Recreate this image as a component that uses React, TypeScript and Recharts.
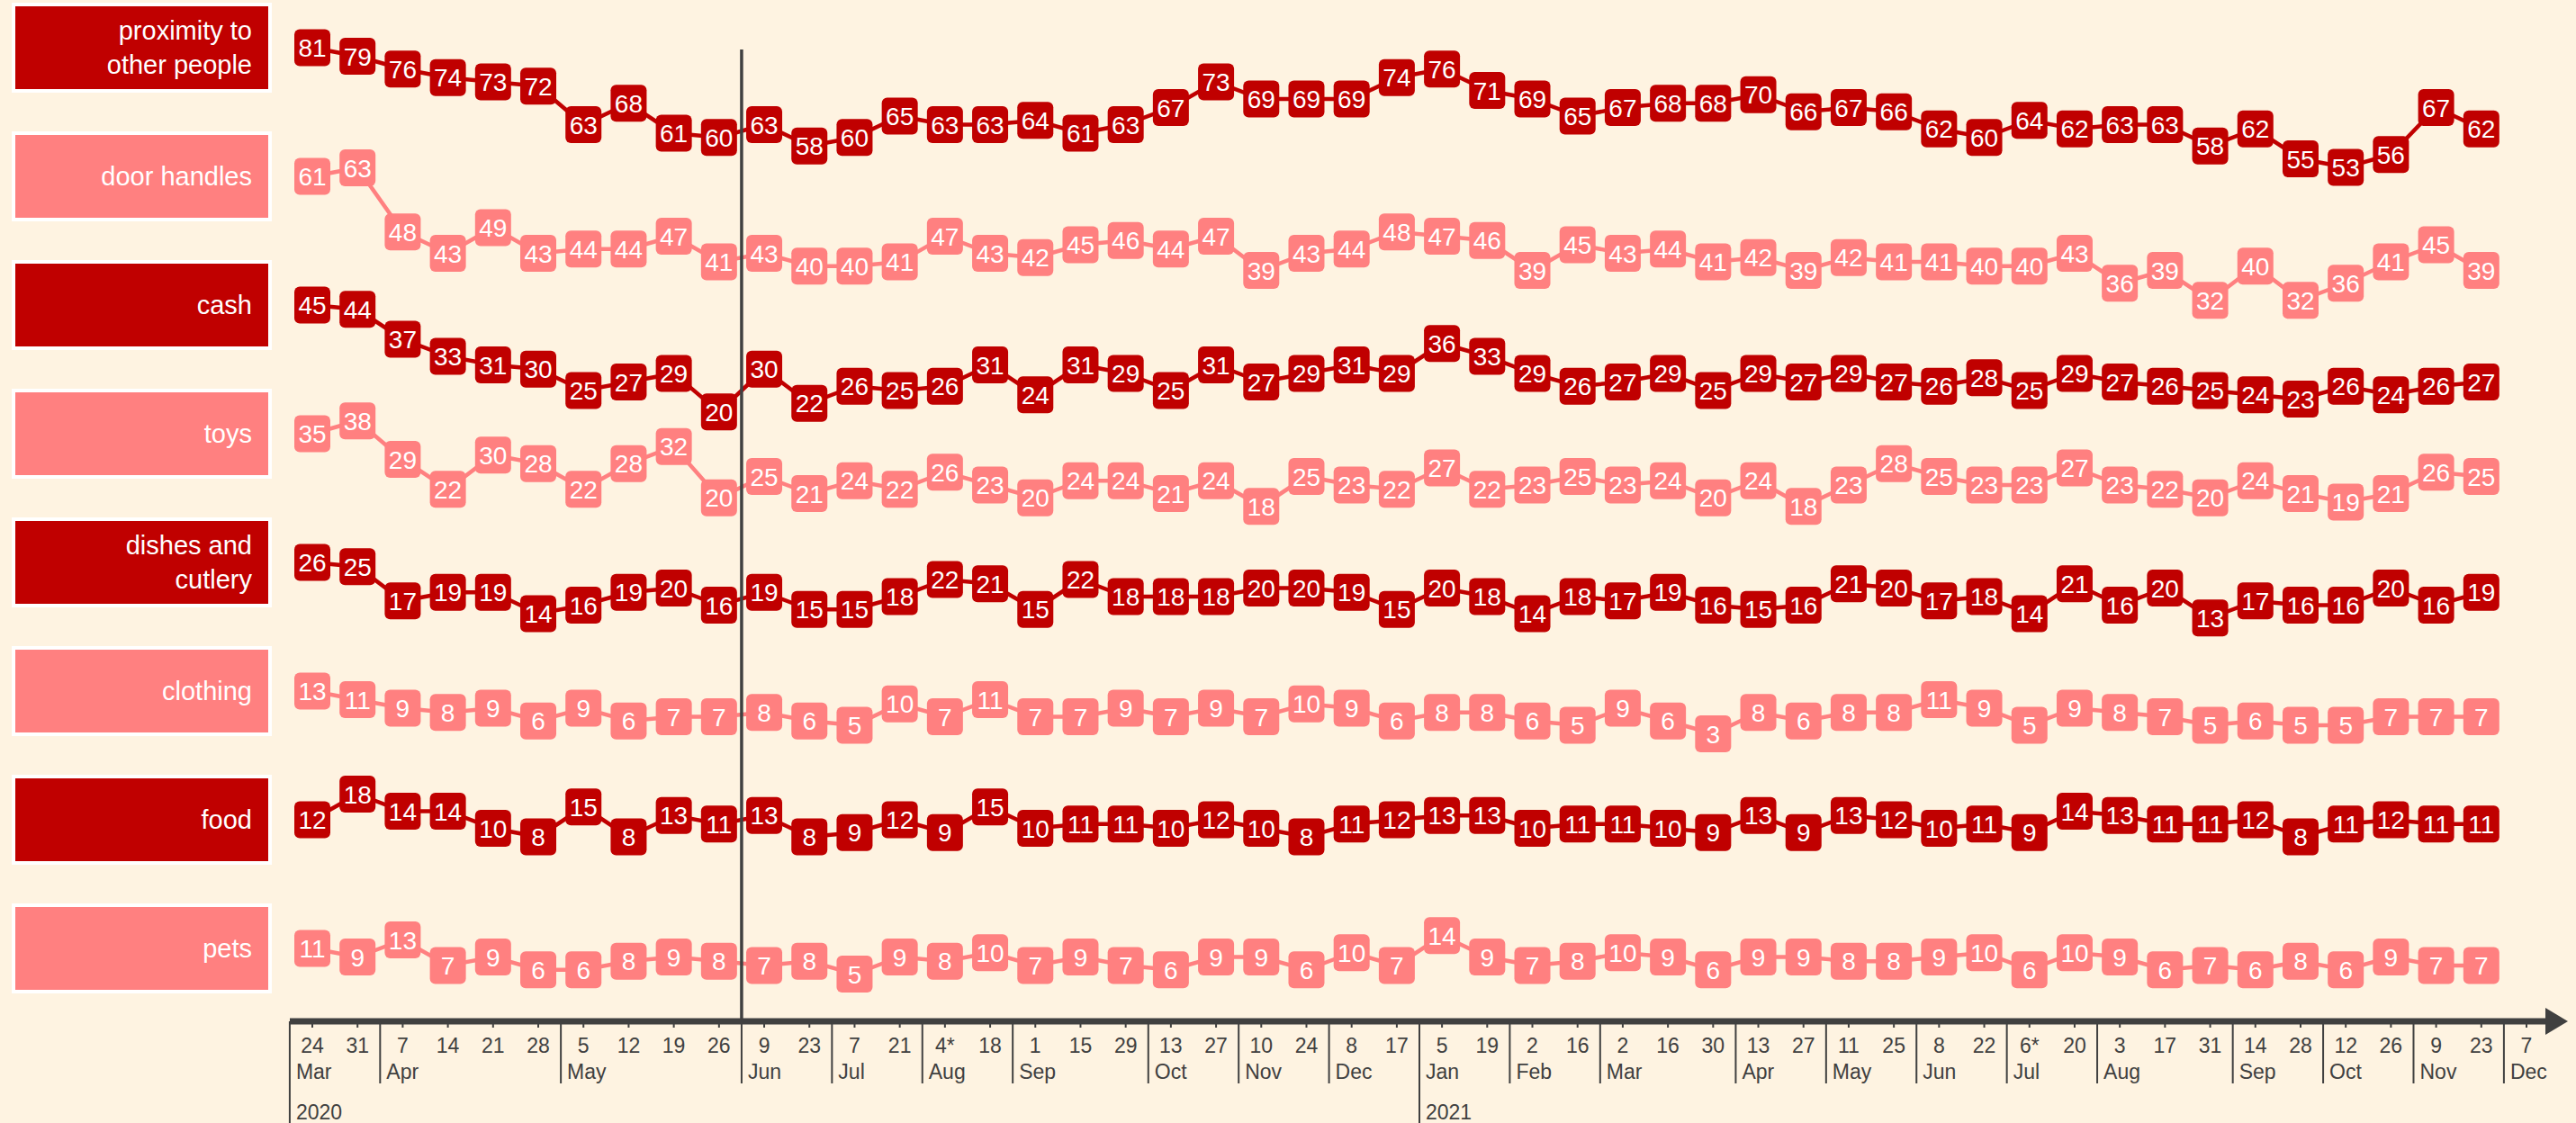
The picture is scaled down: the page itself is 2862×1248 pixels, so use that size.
import React from "react";
import { LineChart, Line, XAxis, YAxis } from "recharts";

// x axis: one category per survey wave (last one, 7 Dec 2021, has no data yet)
const dayLabels = [
  "24", "31", "7", "14", "21", "28", "5", "12", "19", "26",
  "9", "23", "7", "21", "4*", "18", "1", "15", "29", "13",
  "27", "10", "24", "8", "17", "5", "19", "2", "16", "2",
  "16", "30", "13", "27", "11", "25", "8", "22", "6*", "20",
  "3", "17", "31", "14", "28", "12", "26", "9", "23", "7",
];

const monthLabels = [
  "Mar", "", "Apr", "", "", "", "May", "", "", "",
  "Jun", "", "Jul", "", "Aug", "", "Sep", "", "", "Oct",
  "", "Nov", "", "Dec", "", "Jan", "", "Feb", "", "Mar",
  "", "", "Apr", "", "May", "", "Jun", "", "Jul", "",
  "Aug", "", "", "Sep", "", "Oct", "", "Nov", "", "Dec",
];

const yearLabels: Record<number, string> = { 0: "2020", 25: "2021" };

const proximity = [
  81, 79, 76, 74, 73, 72, 63, 68, 61, 60,
  63, 58, 60, 65, 63, 63, 64, 61, 63, 67,
  73, 69, 69, 69, 74, 76, 71, 69, 65, 67,
  68, 68, 70, 66, 67, 66, 62, 60, 64, 62,
  63, 63, 58, 62, 55, 53, 56, 67, 62,
];
const doorHandles = [
  61, 63, 48, 43, 49, 43, 44, 44, 47, 41,
  43, 40, 40, 41, 47, 43, 42, 45, 46, 44,
  47, 39, 43, 44, 48, 47, 46, 39, 45, 43,
  44, 41, 42, 39, 42, 41, 41, 40, 40, 43,
  36, 39, 32, 40, 32, 36, 41, 45, 39,
];
const cash = [
  45, 44, 37, 33, 31, 30, 25, 27, 29, 20,
  30, 22, 26, 25, 26, 31, 24, 31, 29, 25,
  31, 27, 29, 31, 29, 36, 33, 29, 26, 27,
  29, 25, 29, 27, 29, 27, 26, 28, 25, 29,
  27, 26, 25, 24, 23, 26, 24, 26, 27,
];
const toys = [
  35, 38, 29, 22, 30, 28, 22, 28, 32, 20,
  25, 21, 24, 22, 26, 23, 20, 24, 24, 21,
  24, 18, 25, 23, 22, 27, 22, 23, 25, 23,
  24, 20, 24, 18, 23, 28, 25, 23, 23, 27,
  23, 22, 20, 24, 21, 19, 21, 26, 25,
];
const dishes = [
  26, 25, 17, 19, 19, 14, 16, 19, 20, 16,
  19, 15, 15, 18, 22, 21, 15, 22, 18, 18,
  18, 20, 20, 19, 15, 20, 18, 14, 18, 17,
  19, 16, 15, 16, 21, 20, 17, 18, 14, 21,
  16, 20, 13, 17, 16, 16, 20, 16, 19,
];
const clothing = [
  13, 11, 9, 8, 9, 6, 9, 6, 7, 7,
  8, 6, 5, 10, 7, 11, 7, 7, 9, 7,
  9, 7, 10, 9, 6, 8, 8, 6, 5, 9,
  6, 3, 8, 6, 8, 8, 11, 9, 5, 9,
  8, 7, 5, 6, 5, 5, 7, 7, 7,
];
const food = [
  12, 18, 14, 14, 10, 8, 15, 8, 13, 11,
  13, 8, 9, 12, 9, 15, 10, 11, 11, 10,
  12, 10, 8, 11, 12, 13, 13, 10, 11, 11,
  10, 9, 13, 9, 13, 12, 10, 11, 9, 14,
  13, 11, 11, 12, 8, 11, 12, 11, 11,
];
const pets = [
  11, 9, 13, 7, 9, 6, 6, 8, 9, 8,
  7, 8, 5, 9, 8, 10, 7, 9, 7, 6,
  9, 9, 6, 10, 7, 14, 9, 7, 8, 10,
  9, 6, 9, 9, 8, 8, 9, 10, 6, 10,
  9, 6, 7, 6, 8, 6, 9, 7, 7,
];

const rows = [
  { key: "proximity", label: ["proximity to", "other people"], values: proximity },
  { key: "doorHandles", label: ["door handles"], values: doorHandles },
  { key: "cash", label: ["cash"], values: cash },
  { key: "toys", label: ["toys"], values: toys },
  { key: "dishes", label: ["dishes and", "cutlery"], values: dishes },
  { key: "clothing", label: ["clothing"], values: clothing },
  { key: "food", label: ["food"], values: food },
  { key: "pets", label: ["pets"], values: pets },
];

const data = dayLabels.map((_, i) => {
  const row: Record<string, number | null> = { idx: i };
  rows.forEach((r) => {
    row[r.key] = i < r.values.length ? r.values[i] : null;
  });
  return row;
});

const W = 2862;
const H = 1248;
const BG = "#fef3e1";
const DARK = "#c00000";
const PINK = "#ff8080";
const INK = "#404040";
const FONT = "'Liberation Sans', Arial, sans-serif";

const PLOT_LEFT = 322;
const PLOT_RIGHT = 2840;
const PAD_L = 25;
const PAD_R = 33;
const AXIS_Y = 1135;
const STEP = (PLOT_RIGHT - PAD_R - PLOT_LEFT - PAD_L) / (dayLabels.length - 1);
const ROW_TOP = 7;
const ROW_GAP = 143;
const BOX_H = 92;
const PX_PER_UNIT = 4.75;

const rowColor = (r: number) => (r % 2 === 0 ? DARK : PINK);

// each row gets its own hidden y axis: same px per unit, first value centred on the row label
const rowDomain = (r: number): [number, number] => {
  const center = ROW_TOP + ROW_GAP * r + BOX_H / 2;
  const first = rows[r].values[0];
  const top = first + center / PX_PER_UNIT;
  return [top - AXIS_Y / PX_PER_UNIT, top];
};

function DateTick(props: any) {
  const { x, payload } = props;
  const i = payload.value as number;
  const sep = x - STEP / 2;
  const month = monthLabels[i];
  const year = yearLabels[i];
  const txt = { fill: INK, fontSize: 23, fontFamily: FONT };
  return (
    <g>
      <line x1={x} x2={x} y1={AXIS_Y + 3} y2={AXIS_Y + 7} stroke={INK} strokeWidth={2} />
      <text x={x} y={AXIS_Y + 35} textAnchor="middle" {...txt}>
        {dayLabels[i]}
      </text>
      {month && (
        <g>
          <line x1={sep} x2={sep} y1={AXIS_Y} y2={year ? H : AXIS_Y + 69} stroke={INK} strokeWidth={2} />
          <text x={sep + 7} y={AXIS_Y + 64} {...txt}>
            {month}
          </text>
        </g>
      )}
      {year && (
        <text x={sep + 7} y={AXIS_Y + 109} {...txt}>
          {year}
        </text>
      )}
      {i === 10 && <line x1={sep} x2={sep} y1={55} y2={AXIS_Y} stroke={INK} strokeWidth={3.5} />}
      {i === dayLabels.length - 1 && (
        <polygon
          points={`${PLOT_RIGHT - 12},${AXIS_Y - 15} ${PLOT_RIGHT + 13},${AXIS_Y} ${PLOT_RIGHT - 12},${AXIS_Y + 15}`}
          fill={INK}
        />
      )}
    </g>
  );
}

const makeDot = (color: string) => (props: any) => {
  const { cx, cy, value, index } = props;
  if (cy == null || value == null) return <g key={index} />;
  return (
    <g key={index}>
      <rect x={cx - 20} y={cy - 20.5} width={40} height={41} rx={6} fill={color} />
      <text
        x={cx}
        y={cy + 10}
        textAnchor="middle"
        fill="#fff"
        fontSize={28}
        fontFamily={FONT}
      >
        {value}
      </text>
    </g>
  );
};

export default function App() {
  return (
    <div
      style={{
        position: "absolute",
        left: 0,
        top: 0,
        width: W,
        height: H,
        background: BG,
        fontFamily: FONT,
        overflow: "hidden",
      }}
    >
      {rows.map((r, i) => (
        <div
          key={r.key}
          style={{
            position: "absolute",
            left: 13,
            top: ROW_TOP - 4 + ROW_GAP * i,
            width: 281 - 18,
            height: BOX_H,
            border: "4px solid #fff",
            background: rowColor(i),
            color: "#fff",
            fontSize: 29,
            lineHeight: "38px",
            paddingRight: 18,
            display: "flex",
            flexDirection: "column",
            justifyContent: "center",
            alignItems: "flex-end",
            textAlign: "right",
          }}
        >
          {r.label.map((t) => (
            <div key={t}>{t}</div>
          ))}
        </div>
      ))}

      <div style={{ position: "absolute", left: 0, top: 0 }}>
        <LineChart
          width={W}
          height={H}
          data={data}
          margin={{ top: 0, right: W - PLOT_RIGHT, bottom: 0, left: PLOT_LEFT }}
        >
          <XAxis
            dataKey="idx"
            type="category"
            interval={0}
            height={H - AXIS_Y}
            padding={{ left: PAD_L, right: PAD_R }}
            axisLine={{ stroke: INK, strokeWidth: 7 }}
            tickLine={false}
            tick={<DateTick />}
          />
          {rows.map((r, i) => (
            <YAxis
              key={r.key}
              yAxisId={i}
              type="number"
              hide
              domain={rowDomain(i)}
              allowDataOverflow
            />
          ))}
          {rows.map((r, i) => (
            <Line
              key={r.key}
              yAxisId={i}
              dataKey={r.key}
              type="linear"
              stroke={rowColor(i)}
              strokeWidth={4.5}
              dot={makeDot(rowColor(i))}
              activeDot={false}
              isAnimationActive={false}
            />
          ))}
        </LineChart>
      </div>
    </div>
  );
}
